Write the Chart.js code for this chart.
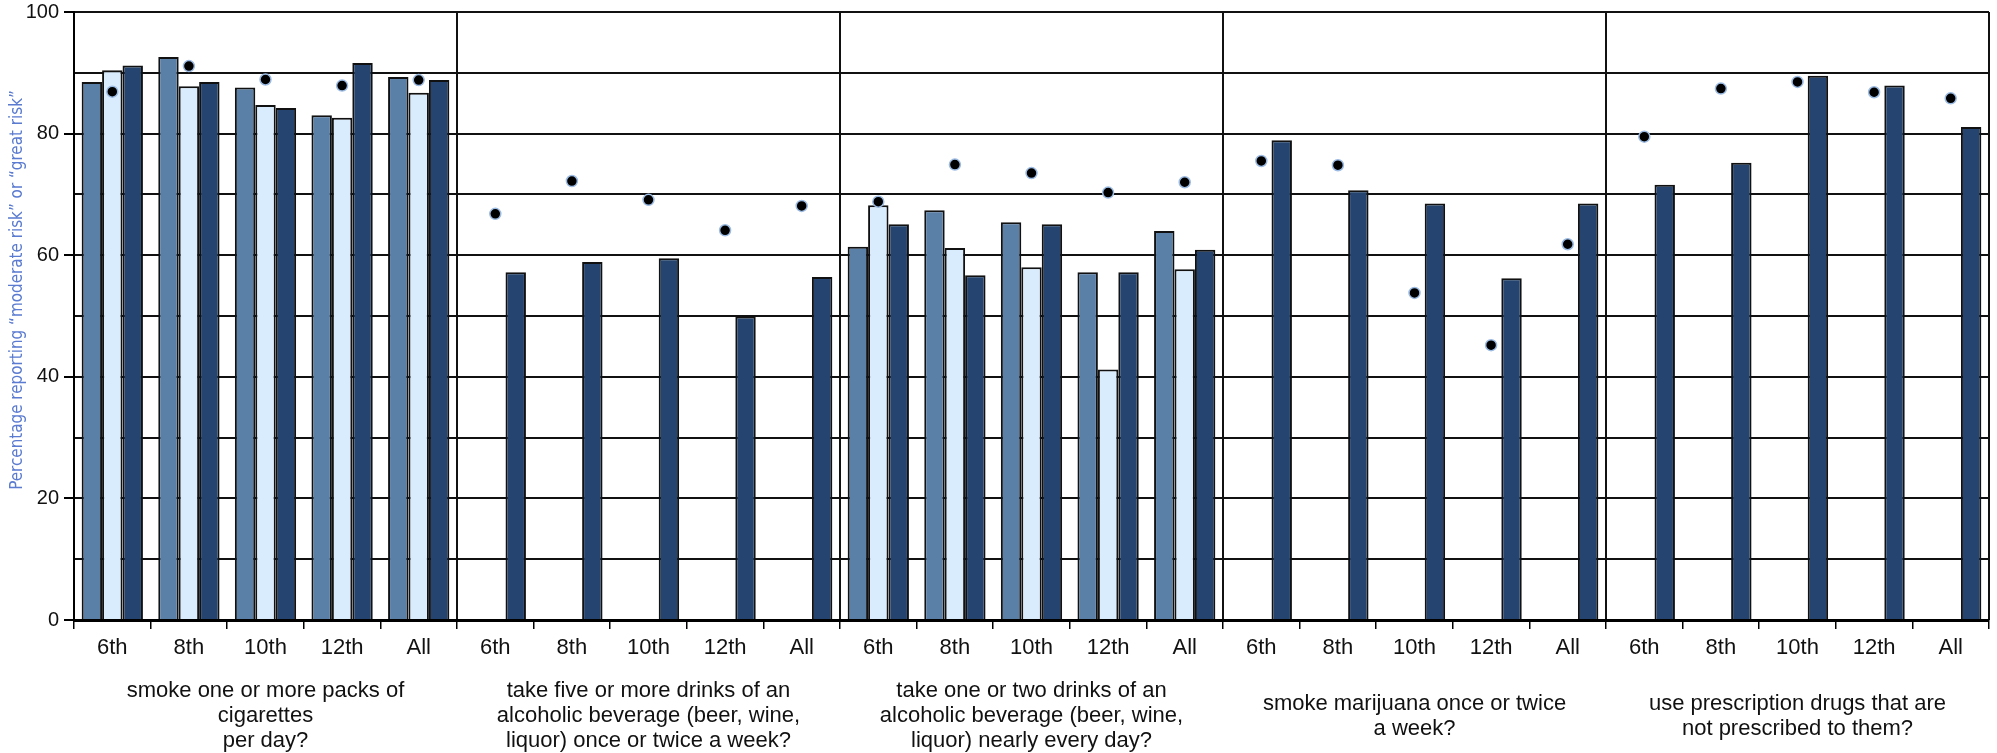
<!DOCTYPE html>
<html>
<head>
<meta charset="utf-8">
<script src="https://cdn.jsdelivr.net/npm/chart.js@4/dist/chart.umd.min.js"></script>
<style>
  html, body { margin: 0; padding: 0; background: #fff; }
  #wrap { width: 1997px; height: 753px; position: relative; }
</style>
</head>
<body>
<div id="wrap"><canvas id="chart"></canvas></div>
<script>
// Grade labels, repeated under every question block
const grades = ['6th', '8th', '10th', '12th', 'All'];

// Question text for each block (one entry per line)
const questions = [
  ['smoke one or more packs of', 'cigarettes', 'per day?'],
  ['take five or more drinks of an', 'alcoholic beverage (beer, wine,', 'liquor) once or twice a week?'],
  ['take one or two drinks of an', 'alcoholic beverage (beer, wine,', 'liquor) nearly every day?'],
  ['smoke marijuana once or twice', 'a week?'],
  ['use prescription drugs that are', 'not prescribed to them?']
];

const yTicks = [0, 20, 40, 60, 80, 100];

// Bar series, 5 grades x 5 questions (null = not asked)
const seriesA = [88.5, 92.6, 87.6, 83.0, 89.3,
                 null, null, null, null, null,
                 61.4, 67.4, 65.4, 57.2, 64.0,
                 null, null, null, null, null,
                 null, null, null, null, null];
const seriesB = [90.4, 87.8, 84.7, 82.6, 86.7,
                 null, null, null, null, null,
                 68.2, 61.2, 58.0, 41.2, 57.7,
                 null, null, null, null, null,
                 null, null, null, null, null];
const seriesC = [91.2, 88.5, 84.2, 91.6, 88.8,
                 57.2, 58.9, 59.5, 49.9, 56.4,
                 65.1, 56.7, 65.1, 57.2, 60.9,
                 78.9, 70.7, 68.5, 56.2, 68.5,
                 71.6, 75.2, 89.5, 87.9, 81.1];
// Comparison points (dots)
const comparison = [86.9, 91.1, 88.9, 87.9, 88.8,
                    66.8, 72.2, 69.1, 64.1, 68.1,
                    68.8, 74.9, 73.5, 70.3, 72.0,
                    75.5, 74.8, 53.8, 45.2, 61.8,
                    79.5, 87.4, 88.5, 86.8, 85.8];

const yTitle = 'Percentage reporting \u201Cmoderate risk\u201D or \u201Cgreat risk\u201D';

const labels = questions.flatMap(() => grades);
const FONT = "'Liberation Sans', Arial, sans-serif";

// rotated y-axis title, drawn by hand so it can sit a bit above centre
const yTitlePlugin = {
  id: 'yTitle',
  afterDraw(chart) {
    const ctx = chart.ctx;
    ctx.save();
    ctx.font = "20px 'Liberation Sans Narrow', 'DejaVu Sans Condensed', sans-serif";
    const w = ctx.measureText(yTitle).width;
    const size = 20 * 400 / w;
    ctx.font = size.toFixed(2) + "px 'Liberation Sans Narrow', 'DejaVu Sans Condensed', sans-serif";
    ctx.fillStyle = '#5a7bd0';
    ctx.textAlign = 'center';
    ctx.textBaseline = 'middle';
    ctx.translate(18, 290);
    ctx.rotate(-Math.PI / 2);
    ctx.fillText(yTitle, 0, 0);
    ctx.restore();
  }
};

const barBase = {
  type: 'bar',
  borderColor: '#111',
  borderWidth: 2,
  categoryPercentage: 0.8,
  barPercentage: 1.0,
  order: 1
};

new Chart(document.getElementById('chart'), {
  data: {
    labels: labels,
    datasets: [
      {
        type: 'line',
        label: 'comparison',
        data: comparison,
        showLine: false,
        pointRadius: 5.5,
        pointBackgroundColor: '#000',
        pointBorderColor: '#9cbbe3',
        pointBorderWidth: 1.5,
        order: 0
      },
      { ...barBase, label: 'A', data: seriesA, backgroundColor: '#5b80a8' },
      { ...barBase, label: 'B', data: seriesB, backgroundColor: '#d9ecfd' },
      { ...barBase, label: 'C', data: seriesC, backgroundColor: '#25446f' }
    ]
  },
  options: {
    responsive: true,
    maintainAspectRatio: false,
    animation: false,
    layout: { padding: { top: 12, right: 8, bottom: 0, left: 0 } },
    plugins: { legend: { display: false }, tooltip: { enabled: false } },
    scales: {
      x: {
        type: 'category',
        position: 'bottom',
        offset: true,
        afterFit: (s) => { s.height = 50; },
        grid: {
          offset: true, drawOnChartArea: false, drawTicks: true,
          tickLength: 9, color: '#000', lineWidth: 1.5
        },
        border: { display: true, color: '#000', width: 3, z: 1 },
        ticks: {
          color: '#111', padding: 6, maxRotation: 0, autoSkip: false,
          font: { family: FONT, size: 22 }
        }
      },
      x2: {
        type: 'category',
        position: 'bottom',
        labels: questions,
        offset: true,
        afterFit: (s) => { s.height = 83; },
        grid: {
          offset: true, drawOnChartArea: true, drawTicks: false,
          color: '#111', lineWidth: 2
        },
        border: { display: false },
        ticks: {
          color: '#111', padding: 21, maxRotation: 0, autoSkip: false,
          crossAlign: 'center',
          font: { family: FONT, size: 22, lineHeight: 1.14 }
        }
      },
      y: {
        min: 0,
        max: 100,
        afterFit: (s) => { s.width = 74; s.paddingTop = 0; s.paddingBottom = 0; },
        afterBuildTicks: (s) => {
          // gridlines every 10, labels only at the yTicks values
          const t = [];
          for (let v = 0; v <= 100; v += 10) t.push({ value: v });
          s.ticks = t;
        },
        grid: {
          color: '#111', lineWidth: 2, drawTicks: true, tickLength: 10,
          tickColor: (c) => (yTicks.includes(c.tick.value) ? '#000' : 'rgba(0,0,0,0)')
        },
        border: { display: true, color: '#000', width: 2 },
        ticks: {
          color: '#111', padding: 5,
          font: { family: FONT, size: 20 },
          callback: (v) => (yTicks.includes(v) ? String(v) : '')
        }
      }
    }
  },
  plugins: [yTitlePlugin]
});
</script>
</body>
</html>
